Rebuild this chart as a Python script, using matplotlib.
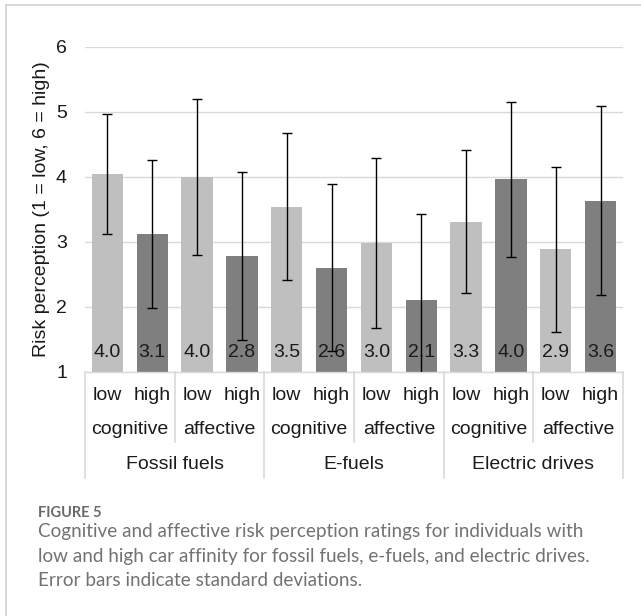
import numpy as np
import matplotlib
matplotlib.use('Agg')
import matplotlib.pyplot as plt
from matplotlib.lines import Line2D

# values
fuels = ['Fossil fuels', 'E-fuels', 'Electric drives']
dimensions = ['cognitive', 'affective']
affinity = ['low', 'high']

means = [4.04, 3.12, 4.00, 2.78, 3.54, 2.60, 2.98, 2.10, 3.31, 3.96, 2.88, 3.63]
sds = [0.92, 1.14, 1.20, 1.29, 1.13, 1.28, 1.31, 1.32, 1.10, 1.19, 1.27, 1.45]

caption_title = 'FIGURE 5'
caption_lines = [
    'Cognitive and affective risk perception ratings for individuals with',
    'low and high car affinity for fossil fuels, e-fuels, and electric drives.',
    'Error bars indicate standard deviations.',
]

W, H = 641, 616
LIGHT = '#bfbfbf'
DARK = '#7f7f7f'
GRID = '#d9d9d9'
TXT = '#1a1a1a'

plt.rcParams['font.family'] = ['Liberation Sans', 'DejaVu Sans']

fig = plt.figure(figsize=(W / 100, H / 100), dpi=100)
# axes box in pixels: left 85, right 623, top 46.7, bottom 371.7
ax = fig.add_axes([85 / W, 1 - 371.7 / H, (623 - 85) / W, (371.7 - 46.7) / H])

n = len(means)
x = np.arange(n)
colors = [LIGHT if i % 2 == 0 else DARK for i in range(n)]

ax.bar(x, means, width=0.70, color=colors, zorder=2)
ax.errorbar(x, means, yerr=sds, fmt='none', ecolor='black', elinewidth=1.0,
            capsize=3.6, capthick=1.0, zorder=4)

for i, m in enumerate(means):
    ax.annotate(f'{m:.1f}', (x[i], 1), xytext=(0, 14.0), textcoords='offset points',
                ha='center', va='center', fontsize=14, color=TXT, zorder=3)

ax.set_xlim(-0.5, n - 0.5)
ax.set_ylim(1, 6)
ax.set_yticks([1, 2, 3, 4, 5, 6])
ax.yaxis.grid(True, color=GRID, linewidth=1.0, zorder=0)
ax.set_axisbelow(True)
ax.tick_params(axis='y', length=0, labelsize=14, labelcolor=TXT, pad=13)
ax.set_xticks([])
for s in ['top', 'right', 'left']:
    ax.spines[s].set_visible(False)
ax.spines['bottom'].set_color(GRID)
ax.spines['bottom'].set_linewidth(1.0)

# multi-level category axis (Excel style)
tr = ax.get_xaxis_transform()
row1, row2, row3 = -0.0717, -0.179, -0.287
sub_bottom, grp_bottom = -0.216, -0.327
for i in range(n):
    ax.text(x[i], row1, affinity[i % 2], transform=tr, ha='center', va='center',
            fontsize=14, color=TXT)
for j in range(n // 2):
    ax.text(2 * j + 0.5, row2, dimensions[j % 2], transform=tr, ha='center',
            va='center', fontsize=14, color=TXT)
for k, name in enumerate(fuels):
    ax.text(4 * k + 1.5, row3, name, transform=tr, ha='center', va='center',
            fontsize=14, color=TXT)

for j in range(n // 2 + 1):
    xs = 2 * j - 0.5
    bottom = grp_bottom if j % 2 == 0 else sub_bottom
    ax.add_line(Line2D([xs, xs], [0, bottom], transform=tr, color=GRID,
                       linewidth=1.2, clip_on=False))

fig.text(42 / W, 1 - 209 / H, 'Risk perception (1 = low, 6 = high)', rotation=90,
         ha='center', va='center', fontsize=14, color=TXT)

# page frame (top and left edges only visible)
fig.add_artist(Line2D([6 / W, 6 / W], [0, 1 - 5 / H], transform=fig.transFigure,
                      color='#d4d4d4', linewidth=1.3))
fig.add_artist(Line2D([6 / W, 1], [1 - 5 / H, 1 - 5 / H], transform=fig.transFigure,
                      color='#d4d4d4', linewidth=1.3))

# caption
fig.text(38 / W, 1 - 513 / H, caption_title, ha='left', va='center', fontsize=10.5,
         fontweight='bold', color='#6a6a6a', family=['Lato', 'DejaVu Sans'])
for i, line in enumerate(caption_lines):
    fig.text(38 / W, 1 - (532 + 24.2 * i) / H, line, ha='left', va='center',
             fontsize=13.6, color='#727272', family=['Lato', 'DejaVu Sans'])

fig.savefig('out.png', dpi=100)
